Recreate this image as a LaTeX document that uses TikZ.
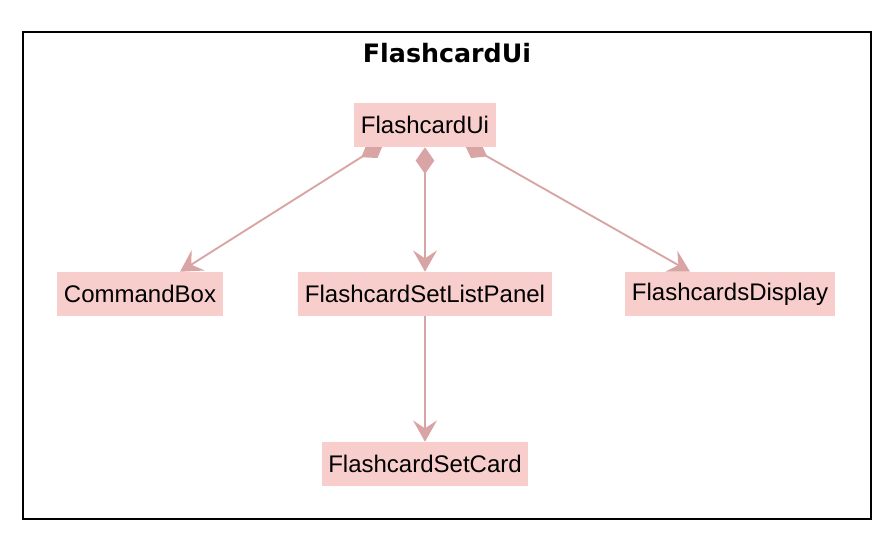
\documentclass[tikz,border=0pt]{standalone}
\usepackage{fontspec}
\setmainfont{Liberation Sans}
\newfontfamily\titlefont{DejaVu Sans}
\usepackage{tikz}
\usetikzlibrary{
  arrows.meta,
  calc,
  backgrounds,
}
\definecolor{classfill}{HTML}{F8CECC}
\definecolor{classline}{HTML}{D8A4A4}
\definecolor{framecol}{HTML}{000000}
\tikzset{
  >=Stealth,
  cls/.style={
    fill=classfill,
    inner xsep=5pt,
    inner ysep=0pt,
    minimum height=33pt,
    font=\fontsize{18}{20}\selectfont,
    text=black,
  },
  frametitle/.style={font=\titlefont\bfseries\fontsize{19}{22}\selectfont, text=black},
  owns/.style={
    draw=classline,
    line width=1.4pt,
    {Diamond[length=20pt,width=14pt]}-{Stealth[length=16pt,width=18pt,inset=6pt]},
  },
  link/.style={
    draw=classline,
    line width=1.4pt,
    -{Stealth[length=16pt,width=18pt,inset=6pt]},
  },
}

\begin{document}
\begin{tikzpicture}[x=0.75pt,y=-0.75pt]
  \useasboundingbox (0,0) rectangle (882,534);
  \draw[framecol, line width=2.2pt] (23,32) rectangle (871,519);
  \node[frametitle] (title) at (447,53) {FlashcardUi};

  % classes
  \node[cls] (ui) at (425,125) {FlashcardUi};
  \node[cls] (cmdbox) at (140,294) {CommandBox};
  \node[cls] (setpanel) at (425,294) {FlashcardSetListPanel};
  \node[cls] (display) at (730,294) {FlashcardsDisplay};
  \node[cls] (setcard) at (425,464) {FlashcardSetCard};

  % connectors behind the boxes
  \begin{scope}[on background layer]
    \draw[owns, shorten <=-6pt] ($(ui.south)+(-48,0)$) -- ($(cmdbox.north)+(40,0)$);
    \draw[owns] (ui.south) -- (setpanel.north);
    \draw[owns, shorten <=-6pt] ($(ui.south)+(46,0)$) -- ($(display.north)+(-40,0)$);
    \draw[link] (setpanel.south) -- (setcard.north);
  \end{scope}
\end{tikzpicture}
\end{document}
